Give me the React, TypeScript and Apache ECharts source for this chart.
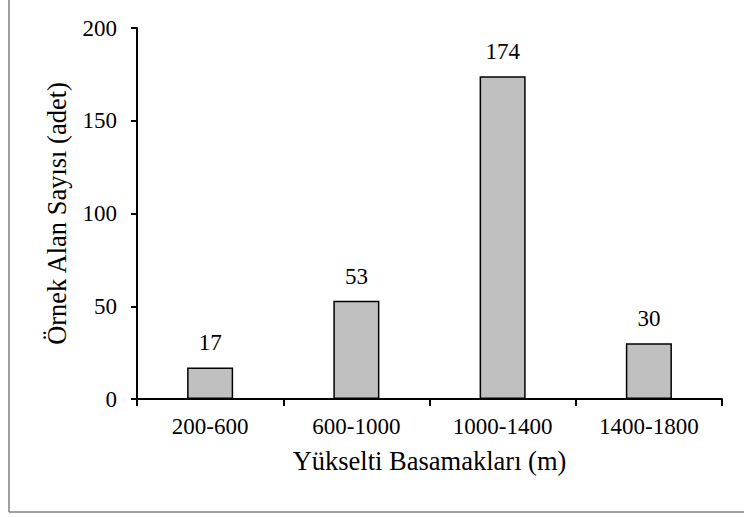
import React, { useEffect, useRef } from "react";
import * as echarts from "echarts";

const categories = ["200-600", "600-1000", "1000-1400", "1400-1800"];
const counts = [17, 53, 174, 30];
const yTicks = [0, 50, 100, 150, 200];
const xTitle = "Yükselti Basamakları (m)";
const yTitle = "Örnek Alan Sayısı (adet)";

const FONT = "Liberation Serif";

export default function App() {
  const ref = useRef<HTMLDivElement>(null);
  useEffect(() => {
    if (!ref.current) return;
    const chart = echarts.init(ref.current, undefined, { renderer: "svg" });
    chart.setOption({
      animation: false,
      backgroundColor: "#ffffff",
      textStyle: { fontFamily: FONT },
      grid: { left: 137, right: 22, top: 28, bottom: 118, containLabel: false },
      xAxis: {
        type: "category",
        data: categories,
        axisLine: { lineStyle: { color: "#000", width: 2 } },
        axisTick: { show: true, alignWithLabel: false, length: 7, lineStyle: { color: "#000", width: 2 } },
        axisLabel: { color: "#000", fontFamily: FONT, fontSize: 23, margin: 16 },
        name: xTitle,
        nameLocation: "middle",
        nameGap: 48,
        nameTextStyle: { color: "#000", fontFamily: FONT, fontSize: 26.5 },
      },
      yAxis: {
        type: "value",
        min: yTicks[0],
        max: yTicks[yTicks.length - 1],
        interval: 50,
        axisLine: { show: true, lineStyle: { color: "#000", width: 2 } },
        axisTick: { show: true, inside: false, length: 6, lineStyle: { color: "#000", width: 2 } },
        splitLine: { show: false },
        axisLabel: { color: "#000", fontFamily: FONT, fontSize: 23, margin: 20 },
      },
      series: [
        {
          type: "bar",
          data: counts,
          barWidth: "31.5%",
          itemStyle: { color: "#c0c0c0", borderColor: "#000", borderWidth: 1.5 },
          label: {
            show: true,
            position: "top",
            distance: 13,
            color: "#000",
            fontFamily: FONT,
            fontSize: 23,
          },
        },
      ],
      graphic: [
        {
          type: "text",
          x: 57,
          y: 213.5,
          rotation: Math.PI / 2,
          style: {
            text: yTitle,
            fill: "#000",
            fontFamily: FONT,
            fontSize: 26.5,
            align: "center",
            verticalAlign: "middle",
          },
        },
        {
          type: "line",
          shape: { x1: 9, y1: 0, x2: 9, y2: 512 },
          style: { stroke: "#808080", lineWidth: 1.5 },
        },
        {
          type: "line",
          shape: { x1: 9, y1: 512, x2: 744, y2: 512 },
          style: { stroke: "#808080", lineWidth: 1.5 },
        },
      ],
    });
    return () => chart.dispose();
  }, []);
  return (
    <div
      ref={ref}
      style={{ position: "fixed", left: 0, top: 0, width: 744, height: 517 }}
    />
  );
}
